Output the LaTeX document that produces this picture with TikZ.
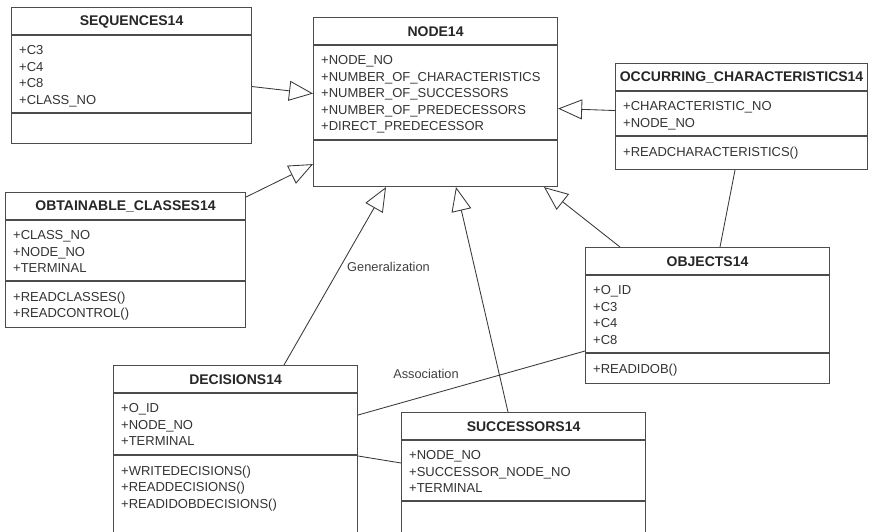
\documentclass[tikz,border=0pt]{standalone}
\usepackage{fontspec}
\setmainfont{Liberation Sans}
\usetikzlibrary{arrows.meta}

% UML class box: name, top-left corner, width, height, attribute compartment height,
% title, attributes, operations
\newcommand\umlclass[8]{%
  \node[classbox, minimum width=#3, minimum height=#4] (#1) at (#2) {};
  \draw[sepline] ([yshift=-28pt]#1.north west) -- ([yshift=-28pt]#1.north east);
  \draw[sepline] ([yshift=-28pt-#5]#1.north west) -- ([yshift=-28pt-#5]#1.north east);
  \node[classtitle] (#1-title) at ([yshift=-14.5pt]#1.north) {#6};
  \node[members] (#1-attrs) at ([xshift=8pt,yshift=-38.5pt]#1.north west) {#7};
  \node[members] (#1-ops) at ([xshift=8pt,yshift=-38.5pt-#5]#1.north west) {#8};
}

\begin{document}
\begin{tikzpicture}[x=1pt,y=-1pt,
  classbox/.style={draw=black!70, line width=1.1pt, rectangle, inner sep=0, anchor=north west, fill=white},
  classtitle/.style={font=\fontsize{14}{16}\selectfont\bfseries, text=black!85, inner sep=0},
  members/.style={font=\fontsize{13}{16.5}\selectfont, text=black!80, align=left, anchor=north west, inner sep=0},
  sepline/.style={draw=black!70, line width=1.1pt},
  gen/.style={draw=black!78, line width=0.85pt, -{Triangle[open, length=24pt, width=20pt, line width=0.85pt]}},
  assoc/.style={draw=black!78, line width=0.85pt},
  lbl/.style={font=\fontsize{12.8}{15}\selectfont, text=black!75, inner sep=0}]

\path[use as bounding box] (0,0) rectangle (870,532);
\clip (0,0) rectangle (870,532);
\fill[white] (0,0) rectangle (870,532);

\umlclass{seq}{11,7}{240pt}{136pt}{78pt}{SEQUENCES14}
  {+C3\\+C4\\+C8\\+CLASS\_NO}{}
\umlclass{nodecls}{313,17}{244pt}{169pt}{95pt}{NODE14}
  {+NODE\_NO\\+NUMBER\_OF\_CHARACTERISTICS\\+NUMBER\_OF\_SUCCESSORS\\+NUMBER\_OF\_PREDECESSORS\\+DIRECT\_PREDECESSOR}{}
\umlclass{occ}{615,63}{252pt}{106pt}{45pt}{OCCURRING\_CHARACTERISTICS14}
  {+CHARACTERISTIC\_NO\\+NODE\_NO}{+READCHARACTERISTICS()}
\umlclass{obt}{5,192}{240pt}{135pt}{61pt}{OBTAINABLE\_CLASSES14}
  {+CLASS\_NO\\+NODE\_NO\\+TERMINAL}{+READCLASSES()\\+READCONTROL()}
\umlclass{obj}{585,247}{244pt}{136pt}{78pt}{OBJECTS14}
  {+O\_ID\\+C3\\+C4\\+C8}{+READIDOB()}
\umlclass{dec}{113,365}{244pt}{200pt}{62pt}{DECISIONS14}
  {+O\_ID\\+NODE\_NO\\+TERMINAL}{+WRITEDECISIONS()\\+READDECISIONS()\\+READIDOBDECISIONS()}
\umlclass{suc}{401,412}{244pt}{160pt}{61pt}{SUCCESSORS14}
  {+NODE\_NO\\+SUCCESSOR\_NODE\_NO\\+TERMINAL}{}

% generalizations towards NODE14
\draw[gen] ([yshift=-11pt]seq.east) -- ([yshift=8.5pt]nodecls.west);
\draw[gen] ([yshift=6pt]occ.west) -- ([yshift=-6.5pt]nodecls.east);
\draw[gen] ([yshift=-5pt]obt.north east) -- ([yshift=23pt]nodecls.south west);
\draw[gen] ([xshift=171pt]dec.north west) -- ([xshift=73pt]nodecls.south west);
\draw[gen] ([xshift=107pt]suc.north west) -- ([xshift=143pt]nodecls.south west);
\draw[gen] ([xshift=35pt]obj.north west) -- ([xshift=231pt]nodecls.south west);

% associations
\draw[assoc] ([xshift=120pt]occ.south west) -- ([xshift=135pt]obj.north west);
\draw[assoc] ([yshift=-104pt]obj.north west) -- ([yshift=-50pt]dec.north east);
\draw[assoc] ([yshift=-91pt]dec.north east) -- ([yshift=-51pt]suc.north west);

\node[lbl] (genlbl) at (388.5,267) {Generalization};
\node[lbl] (assoclbl) at (426,374) {Association};
\end{tikzpicture}
\end{document}
